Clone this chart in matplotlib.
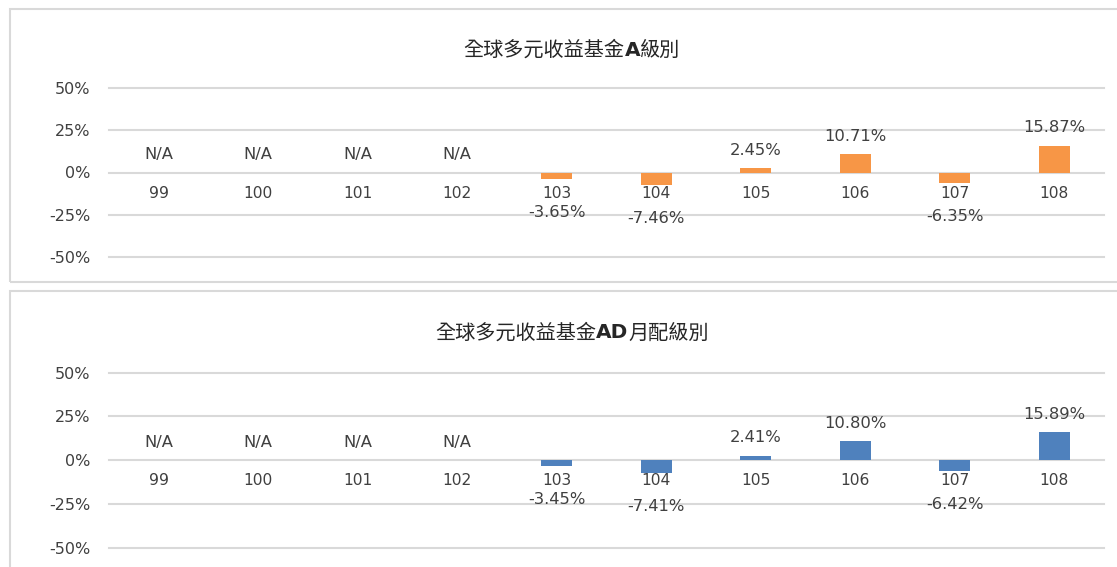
import numpy as np
import matplotlib
matplotlib.use("Agg")
import matplotlib.pyplot as plt
from matplotlib.patches import Rectangle

plt.rcParams['font.family'] = ['DejaVu Sans', 'Noto Sans CJK TC']

years = ['99', '100', '101', '102', '103', '104', '105', '106', '107', '108']
a_class = [np.nan, np.nan, np.nan, np.nan, -3.65, -7.46, 2.45, 10.71, -6.35, 15.87]
ad_class = [np.nan, np.nan, np.nan, np.nan, -3.45, -7.41, 2.41, 10.80, -6.42, 15.89]
# title pieces: (text, bold)
title_a = [('全球多元收益基金', False), ('A', True), ('級別', False)]
title_ad = [('全球多元收益基金', False), ('AD', True), ('月配級別', False)]
colors = ['#F79646', '#4F81BD']
yticks = [-50, -25, 0, 25, 50]
ytick_labels = ['-50%', '-25%', '0%', '25%', '50%']

W, H = 1117, 567
fig = plt.figure(figsize=(W / 100, H / 100), dpi=100)
renderer = fig.canvas.get_renderer()

def fx(px):
    return px / W

def fy(py):
    return 1 - py / H

# panel boxes
for (y0, y1) in [(9, 282), (291, 600)]:
    fig.patches.append(Rectangle((fx(10), fy(y1)), fx(1200 - 10), fy(y0) - fy(y1),
                                 transform=fig.transFigure, fill=False,
                                 edgecolor='#D9D9D9', lw=1.5, zorder=0))

panels = [
    (a_class, title_a, colors[0], 88, 257, 50),
    (ad_class, title_ad, colors[1], 372.7, 547.7, 333),
]

text_color = '#404040'
lat = 'DejaVu Sans'
x = np.arange(len(years))

def draw_title(pieces, cx, cy):
    texts = []
    widths = []
    for s, bold in pieces:
        fam = ['DejaVu Sans'] if bold else ['Noto Sans CJK TC', 'DejaVu Sans']
        t = fig.text(0, fy(cy), s, ha='left', va='center', fontsize=14.5,
                     color='#262626', family=fam,
                     fontweight='bold' if bold else 'normal')
        texts.append(t)
        widths.append(t.get_window_extent(renderer).width)
    total = sum(widths)
    left = cx - total / 2
    for t, w in zip(texts, widths):
        t.set_x(fx(left))
        left += w

for vals, pieces, color, ytop, ybot, ytitle in panels:
    ax = fig.add_axes([fx(109), fy(ybot), fx(1104) - fx(109), fy(ytop) - fy(ybot)])
    ax.set_xlim(-0.5, len(years) - 0.5)
    ax.set_ylim(-50, 50)
    for t in yticks:
        ax.axhline(t, color='#D9D9D9', lw=1.5, clip_on=False, zorder=0)
    ax.bar(x, vals, width=0.31, color=color, zorder=2)
    for s in ax.spines.values():
        s.set_visible(False)
    ax.spines['bottom'].set_position(('data', 0))
    ax.set_xticks(x)
    ax.set_xticklabels(years, fontsize=11.2, color=text_color, family=lat)
    ax.tick_params(axis='x', length=0, pad=9.5)
    ax.set_yticks(yticks)
    ax.set_yticklabels(ytick_labels, fontsize=11.5, color=text_color, family=lat)
    ax.tick_params(axis='y', length=0, pad=13.5)
    ax.set_facecolor('none')
    for xi, v in zip(x, vals):
        if np.isnan(v):
            ax.annotate('N/A', (xi, 0), xytext=(0, 13), textcoords='offset points',
                        ha='center', va='center', fontsize=11.8, color=text_color, family=lat)
        elif v >= 0:
            ax.annotate(f'{v:.2f}%', (xi, v), xytext=(0, 13), textcoords='offset points',
                        ha='center', va='center', fontsize=11.8, color=text_color, family=lat)
        else:
            ax.annotate(f'{v:.2f}%', (xi, v), xytext=(0, -24), textcoords='offset points',
                        ha='center', va='center', fontsize=11.8, color=text_color, family=lat)
    draw_title(pieces, 572, ytitle)

fig.savefig('out.png', dpi=100, facecolor='white')
